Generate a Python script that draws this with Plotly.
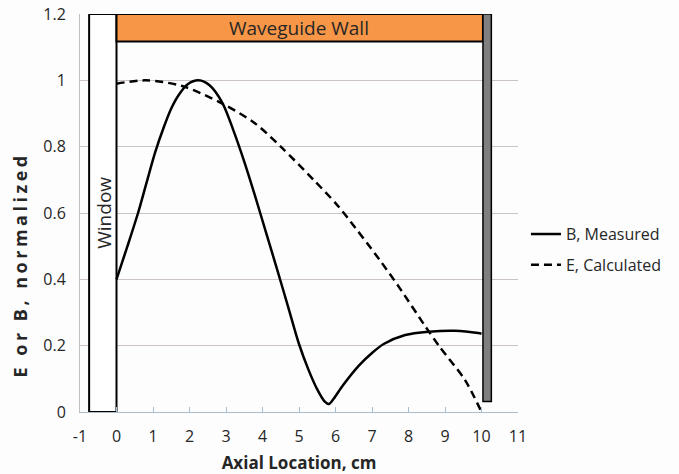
import plotly.graph_objects as go

# Measured magnetic field along the cavity axis
b_x = [0.0, 0.3, 0.59, 0.82, 1.05, 1.3, 1.5, 1.7, 1.95, 2.25, 2.55, 2.91, 3.2,
       3.5, 3.8, 4.1, 4.4, 4.7, 5.0, 5.25, 5.5, 5.7, 5.82, 5.95, 6.2, 6.64, 7.0,
       7.32, 7.91, 8.55, 9.27, 9.91, 10.0]
b_y = [0.40, 0.50, 0.60, 0.69, 0.78, 0.86, 0.915, 0.955, 0.988, 1.0, 0.985, 0.93,
       0.85, 0.755, 0.65, 0.54, 0.43, 0.318, 0.205, 0.13, 0.068, 0.032, 0.024,
       0.04, 0.08, 0.14, 0.178, 0.205, 0.232, 0.242, 0.245, 0.238, 0.236]

# Calculated electric field
e_x = [0.0, 0.8, 1.8, 2.9, 3.8, 4.5, 5.4, 6.0, 6.3, 7.2, 7.75, 8.45, 8.85, 9.55, 10.0]
e_y = [0.99, 1.0, 0.983, 0.93, 0.87, 0.80, 0.70, 0.63, 0.59, 0.46, 0.375, 0.26,
       0.197, 0.096, 0.0]

x_ticks = list(range(-1, 12))
x_tick_text = [str(v) for v in x_ticks]
y_ticks = [0, 0.2, 0.4, 0.6, 0.8, 1.0, 1.2]
y_tick_text = ["0", "0.2", "0.4", "0.6", "0.8", "1", "1.2"]

FONT = "Open Sans"
TEXT = "#262626"

fig = go.Figure()
fig.add_trace(go.Scatter(x=b_x, y=b_y, mode="lines", name="B, Measured",
                         legendgroup="b",
                         line=dict(color="black", width=2.5, shape="spline", smoothing=0.8)))
fig.add_trace(go.Scatter(x=e_x, y=e_y, mode="lines", name="E, Calculated",
                         legendgroup="e",
                         line=dict(color="black", width=2.5, dash="8px,5px",
                                   shape="spline", smoothing=0.8)))

# Window, waveguide wall and end plate
fig.add_shape(type="rect", x0=-0.75, x1=0, y0=0, y1=1.2, layer="between",
              fillcolor="white", line=dict(color="black", width=2))
fig.add_shape(type="rect", x0=0, x1=10.04, y0=1.117, y1=1.2, layer="between",
              fillcolor="#f79646", line=dict(color="black", width=2))
fig.add_shape(type="rect", x0=10.04, x1=10.27, y0=0.032, y1=1.2, layer="between",
              fillcolor="#7f7f7f", line=dict(color="black", width=1.5))

fig.add_annotation(x=-0.35, y=0.6, text="Window", textangle=-90, showarrow=False,
                   font=dict(family=FONT, size=19, color=TEXT))
fig.add_annotation(x=5.0, y=1.158, text="Waveguide Wall", showarrow=False,
                   font=dict(family=FONT, size=19, color=TEXT))

# Vertical axis title, placed by hand so it can sit below the plot centre
fig.add_annotation(xref="paper", yref="paper", x=(20 - 80) / 441, y=1 - (265 - 14) / 398,
                   xanchor="center", yanchor="middle",
                   text='<span style="letter-spacing:3.5px"><b>E or B, normalized</b></span>',
                   textangle=-90, showarrow=False,
                   font=dict(family=FONT, size=18, color=TEXT))

fig.update_layout(
    width=679, height=474,
    margin=dict(l=80, r=158, t=14, b=62),
    paper_bgcolor="#fdfdfe", plot_bgcolor="#fdfdfe",
    font=dict(family=FONT, size=16, color=TEXT),
    legend=dict(x=(529 - 80) / 441, y=0.408, xanchor="left", yanchor="middle",
                bgcolor="rgba(0,0,0,0)", font=dict(size=16), itemwidth=30,
                tracegroupgap=7),
    xaxis=dict(range=[-1, 11], tickvals=x_ticks, ticktext=x_tick_text,
               showgrid=False, zeroline=False, automargin=False,
               showline=True, linecolor="#a9bfd0", linewidth=1,
               ticks="inside", ticklen=5, tickcolor="#a9bfd0",
               ticklabelstandoff=10,
               title=dict(text="<b>Axial Location, cm</b>", standoff=16,
                          font=dict(size=17))),
    yaxis=dict(range=[0, 1.2], tickvals=y_ticks, ticktext=y_tick_text,
               showgrid=True, gridcolor="#cbc3c3", gridwidth=1, zeroline=False,
               automargin=False,
               showline=True, linecolor="#c0c0c0", ticks="", ticklabelstandoff=10),
)

fig.write_html("out.html")
